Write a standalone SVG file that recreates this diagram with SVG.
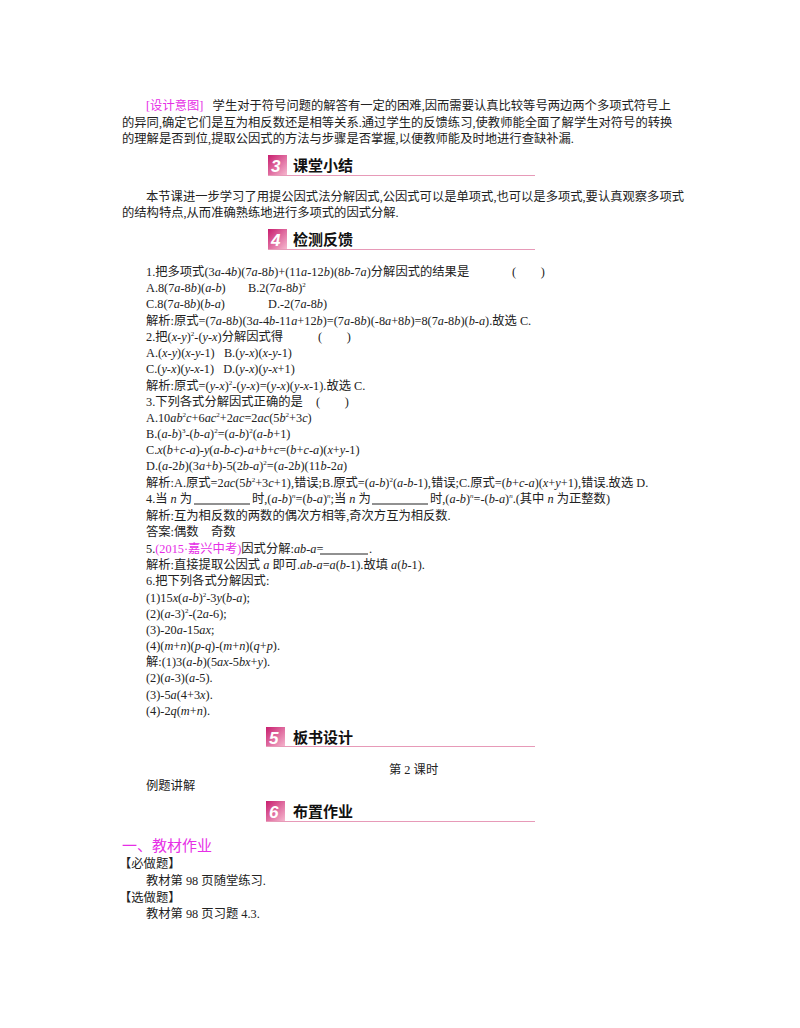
<svg xmlns="http://www.w3.org/2000/svg" width="800" height="1028" viewBox="0 0 800 1028">
<style>
text{font-family:"Liberation Serif","Noto Sans CJK SC",serif;font-size:12.3px;fill:#222;white-space:pre}
.i{font-style:italic}
.p{fill:#e62ee6}
.h{font-family:"Noto Sans CJK SC",sans-serif;font-size:15px;font-weight:bold;fill:#111}
.n{font-family:"Liberation Sans",sans-serif;font-size:17px;font-weight:bold;font-style:italic;fill:#fff}
.ln{stroke:#e79ab8;stroke-width:1.2}
</style>
<defs><linearGradient id="g" x1="0" y1="0" x2="1" y2="1"><stop offset="0" stop-color="#c81d6e"/><stop offset="1" stop-color="#f6b8cf"/></linearGradient></defs>
<rect width="800" height="1028" fill="#fff"/>
<g id="intro">
<text x="146" y="110"><tspan class="p">[设计意图]</tspan>   学生对于符号问题的解答有一定的困难,因而需要认真比较等号两边两个多项式符号上</text>
<text x="122" y="127">的异同,确定它们是互为相反数还是相等关系.通过学生的反馈练习,使教师能全面了解学生对符号的转换</text>
<text x="122" y="143">的理解是否到位,提取公因式的方法与步骤是否掌握,以便教师能及时地进行查缺补漏.</text>
</g>
<g id="h3"><rect x="268" y="155" width="19" height="20" fill="url(#g)"/><text class="n" x="271" y="172">3</text><text class="h" x="293" y="171">课堂小结</text><line class="ln" x1="268" y1="175.5" x2="535" y2="175.5"/></g>
<g id="summary">
<text x="146" y="201">本节课进一步学习了用提公因式法分解因式,公因式可以是单项式,也可以是多项式,要认真观察多项式</text>
<text x="122" y="217">的结构特点,从而准确熟练地进行多项式的因式分解.</text>
</g>
<g id="h4"><rect x="268" y="229" width="19" height="20" fill="url(#g)"/><text class="n" x="271" y="246">4</text><text class="h" x="293" y="245">检测反馈</text><line class="ln" x1="268" y1="249.5" x2="535" y2="249.5"/></g>
<g id="questions">
<text x="146" y="276">1.把多项式(3<tspan class="i">a</tspan>-4<tspan class="i">b</tspan>)(7<tspan class="i">a</tspan>-8<tspan class="i">b</tspan>)+(11<tspan class="i">a</tspan>-12<tspan class="i">b</tspan>)(8<tspan class="i">b</tspan>-7<tspan class="i">a</tspan>)分解因式的结果是</text><text x="512" y="276">(        )</text>
<text x="146" y="292">A.8(7<tspan class="i">a</tspan>-8<tspan class="i">b</tspan>)(<tspan class="i">a</tspan>-<tspan class="i">b</tspan>)</text><text x="248" y="292">B.2(7<tspan class="i">a</tspan>-8<tspan class="i">b</tspan>)<tspan font-size="7" dy="-5">2</tspan></text>
<text x="146" y="308">C.8(7<tspan class="i">a</tspan>-8<tspan class="i">b</tspan>)(<tspan class="i">b</tspan>-<tspan class="i">a</tspan>)</text><text x="268" y="308">D.-2(7<tspan class="i">a</tspan>-8<tspan class="i">b</tspan>)</text>
<text x="146" y="325">解析:原式=(7<tspan class="i">a</tspan>-8<tspan class="i">b</tspan>)(3<tspan class="i">a</tspan>-4<tspan class="i">b</tspan>-11<tspan class="i">a</tspan>+12<tspan class="i">b</tspan>)=(7<tspan class="i">a</tspan>-8<tspan class="i">b</tspan>)(-8<tspan class="i">a</tspan>+8<tspan class="i">b</tspan>)=8(7<tspan class="i">a</tspan>-8<tspan class="i">b</tspan>)(<tspan class="i">b</tspan>-<tspan class="i">a</tspan>).故选 C.</text>
<text x="146" y="341">2.把(<tspan class="i">x</tspan>-<tspan class="i">y</tspan>)<tspan font-size="7" dy="-5">2</tspan><tspan dy="5">-(</tspan><tspan class="i">y</tspan>-<tspan class="i">x</tspan>)分解因式得</text><text x="318" y="341">(        )</text>
<text x="146" y="357">A.(<tspan class="i">x</tspan>-<tspan class="i">y</tspan>)(<tspan class="i">x</tspan>-<tspan class="i">y</tspan>-1)   B.(<tspan class="i">y</tspan>-<tspan class="i">x</tspan>)(<tspan class="i">x</tspan>-<tspan class="i">y</tspan>-1)</text>
<text x="146" y="373">C.(<tspan class="i">y</tspan>-<tspan class="i">x</tspan>)(<tspan class="i">y</tspan>-<tspan class="i">x</tspan>-1)   D.(<tspan class="i">y</tspan>-<tspan class="i">x</tspan>)(<tspan class="i">y</tspan>-<tspan class="i">x</tspan>+1)</text>
<text x="146" y="390">解析:原式=(<tspan class="i">y</tspan>-<tspan class="i">x</tspan>)<tspan font-size="7" dy="-5">2</tspan><tspan dy="5">-(</tspan><tspan class="i">y</tspan>-<tspan class="i">x</tspan>)=(<tspan class="i">y</tspan>-<tspan class="i">x</tspan>)(<tspan class="i">y</tspan>-<tspan class="i">x</tspan>-1).故选 C.</text>
<text x="146" y="406">3.下列各式分解因式正确的是</text><text x="316" y="406">(        )</text>
<text x="146" y="422">A.10<tspan class="i">ab</tspan><tspan font-size="7" dy="-5">2</tspan><tspan class="i" dy="5">c</tspan>+6<tspan class="i">ac</tspan><tspan font-size="7" dy="-5">2</tspan><tspan dy="5">+2</tspan><tspan class="i">ac</tspan>=2<tspan class="i">ac</tspan>(5<tspan class="i">b</tspan><tspan font-size="7" dy="-5">2</tspan><tspan dy="5">+3</tspan><tspan class="i">c</tspan>)</text>
<text x="146" y="438">B.(<tspan class="i">a</tspan>-<tspan class="i">b</tspan>)<tspan font-size="7" dy="-5">3</tspan><tspan dy="5">-(</tspan><tspan class="i">b</tspan>-<tspan class="i">a</tspan>)<tspan font-size="7" dy="-5">2</tspan><tspan dy="5">=(</tspan><tspan class="i">a</tspan>-<tspan class="i">b</tspan>)<tspan font-size="7" dy="-5">2</tspan><tspan dy="5">(</tspan><tspan class="i">a</tspan>-<tspan class="i">b</tspan>+1)</text>
<text x="146" y="454">C.<tspan class="i">x</tspan>(<tspan class="i">b</tspan>+<tspan class="i">c</tspan>-<tspan class="i">a</tspan>)-<tspan class="i">y</tspan>(<tspan class="i">a</tspan>-<tspan class="i">b</tspan>-<tspan class="i">c</tspan>)-<tspan class="i">a</tspan>+<tspan class="i">b</tspan>+<tspan class="i">c</tspan>=(<tspan class="i">b</tspan>+<tspan class="i">c</tspan>-<tspan class="i">a</tspan>)(<tspan class="i">x</tspan>+<tspan class="i">y</tspan>-1)</text>
<text x="146" y="470">D.(<tspan class="i">a</tspan>-2<tspan class="i">b</tspan>)(3<tspan class="i">a</tspan>+<tspan class="i">b</tspan>)-5(2<tspan class="i">b</tspan>-<tspan class="i">a</tspan>)<tspan font-size="7" dy="-5">2</tspan><tspan dy="5">=(</tspan><tspan class="i">a</tspan>-2<tspan class="i">b</tspan>)(11<tspan class="i">b</tspan>-2<tspan class="i">a</tspan>)</text>
<text x="146" y="487">解析:A.原式=2<tspan class="i">ac</tspan>(5<tspan class="i">b</tspan><tspan font-size="7" dy="-5">2</tspan><tspan dy="5">+3</tspan><tspan class="i">c</tspan>+1),错误;B.原式=(<tspan class="i">a</tspan>-<tspan class="i">b</tspan>)<tspan font-size="7" dy="-5">2</tspan><tspan dy="5">(</tspan><tspan class="i">a</tspan>-<tspan class="i">b</tspan>-1),错误;C.原式=(<tspan class="i">b</tspan>+<tspan class="i">c</tspan>-<tspan class="i">a</tspan>)(<tspan class="i">x</tspan>+<tspan class="i">y</tspan>+1),错误.故选 D.</text>
<text x="146" y="503">4.当 <tspan class="i">n</tspan> 为</text>
<text x="252" y="503">时,(<tspan class="i">a</tspan>-<tspan class="i">b</tspan>)<tspan font-size="7" dy="-5" class="i">n</tspan><tspan dy="5">=(</tspan><tspan class="i">b</tspan>-<tspan class="i">a</tspan>)<tspan font-size="7" dy="-5" class="i">n</tspan><tspan dy="5">;当 </tspan><tspan class="i">n</tspan> 为</text>
<text x="430" y="503">时,(<tspan class="i">a</tspan>-<tspan class="i">b</tspan>)<tspan font-size="7" dy="-5" class="i">n</tspan><tspan dy="5">=-(</tspan><tspan class="i">b</tspan>-<tspan class="i">a</tspan>)<tspan font-size="7" dy="-5" class="i">n</tspan><tspan dy="5">.(其中 </tspan><tspan class="i">n</tspan> 为正整数)</text>
<line x1="194" y1="504" x2="250" y2="504" stroke="#222"/><line x1="372" y1="504" x2="428" y2="504" stroke="#222"/>
<text x="146" y="520">解析:互为相反数的两数的偶次方相等,奇次方互为相反数.</text>
<text x="146" y="536">答案:偶数    奇数</text>
<text x="146" y="553">5.<tspan class="p">(2015·嘉兴中考)</tspan>因式分解:<tspan class="i">ab</tspan>-<tspan class="i">a</tspan>=</text><text x="369" y="553">.</text>
<line x1="320" y1="554" x2="368" y2="554" stroke="#222"/>
<text x="146" y="569">解析:直接提取公因式 <tspan class="i">a</tspan> 即可.<tspan class="i">ab</tspan>-<tspan class="i">a</tspan>=<tspan class="i">a</tspan>(<tspan class="i">b</tspan>-1).故填 <tspan class="i">a</tspan>(<tspan class="i">b</tspan>-1).</text>
<text x="146" y="585">6.把下列各式分解因式:</text>
<text x="146" y="602">(1)15<tspan class="i">x</tspan>(<tspan class="i">a</tspan>-<tspan class="i">b</tspan>)<tspan font-size="7" dy="-5">2</tspan><tspan dy="5">-3</tspan><tspan class="i">y</tspan>(<tspan class="i">b</tspan>-<tspan class="i">a</tspan>);</text>
<text x="146" y="618">(2)(<tspan class="i">a</tspan>-3)<tspan font-size="7" dy="-5">2</tspan><tspan dy="5">-(2</tspan><tspan class="i">a</tspan>-6);</text>
<text x="146" y="634">(3)-20<tspan class="i">a</tspan>-15<tspan class="i">ax</tspan>;</text>
<text x="146" y="650">(4)(<tspan class="i">m</tspan>+<tspan class="i">n</tspan>)(<tspan class="i">p</tspan>-<tspan class="i">q</tspan>)-(<tspan class="i">m</tspan>+<tspan class="i">n</tspan>)(<tspan class="i">q</tspan>+<tspan class="i">p</tspan>).</text>
<text x="146" y="666">解:(1)3(<tspan class="i">a</tspan>-<tspan class="i">b</tspan>)(5<tspan class="i">ax</tspan>-5<tspan class="i">bx</tspan>+<tspan class="i">y</tspan>).</text>
<text x="146" y="682">(2)(<tspan class="i">a</tspan>-3)(<tspan class="i">a</tspan>-5).</text>
<text x="146" y="699">(3)-5<tspan class="i">a</tspan>(4+3<tspan class="i">x</tspan>).</text>
<text x="146" y="715">(4)-2<tspan class="i">q</tspan>(<tspan class="i">m</tspan>+<tspan class="i">n</tspan>).</text>
</g>
<g id="h5"><rect x="266" y="727" width="19" height="20" fill="url(#g)"/><text class="n" x="269" y="744">5</text><text class="h" x="293" y="743">板书设计</text><line class="ln" x1="266" y1="746.5" x2="535" y2="746.5"/></g>
<g id="board">
<text x="389" y="774">第 2 课时</text>
<text x="146" y="790">例题讲解</text>
</g>
<g id="h6"><rect x="266" y="801" width="19" height="20" fill="url(#g)"/><text class="n" x="269" y="818">6</text><text class="h" x="293" y="817">布置作业</text><line class="ln" x1="266" y1="821.5" x2="535" y2="821.5"/></g>
<g id="homework">
<text class="p" x="122" y="851" style="font-size:15px">一、教材作业</text>
<text x="119" y="868">【必做题】</text>
<text x="146" y="885">教材第 98 页随堂练习.</text>
<text x="119" y="902">【选做题】</text>
<text x="146" y="918">教材第 98 页习题 4.3.</text>
</g>
</svg>
